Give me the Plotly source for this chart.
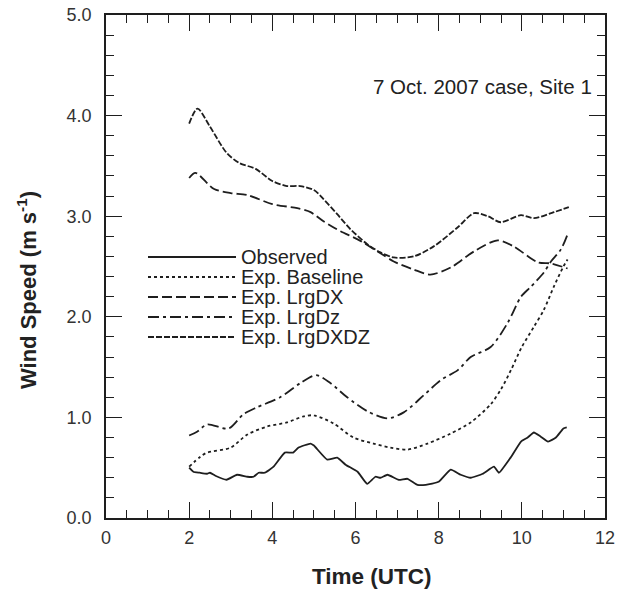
import plotly.graph_objects as go

# ---------------- data ----------------
obs_x = [2.0, 2.1, 2.25, 2.43, 2.5, 2.63, 2.9, 3.15, 3.4, 3.55, 3.67, 3.82, 4.03, 4.3, 4.5, 4.63,
         4.92, 5.0, 5.32, 5.56, 5.76, 6.05, 6.28, 6.48, 6.6, 6.77, 7.04, 7.25, 7.49, 7.69, 8.0,
         8.29, 8.53, 8.77, 9.06, 9.33, 9.45, 9.73, 9.98, 10.14, 10.29, 10.45, 10.63, 10.82, 11.0, 11.08]
obs_y = [0.50, 0.46, 0.45, 0.44, 0.45, 0.42, 0.38, 0.43, 0.41, 0.41, 0.45, 0.45, 0.51, 0.65, 0.65, 0.70,
         0.74, 0.72, 0.58, 0.60, 0.53, 0.46, 0.34, 0.41, 0.40, 0.43, 0.38, 0.39, 0.33, 0.33, 0.36,
         0.48, 0.43, 0.40, 0.44, 0.51, 0.45, 0.60, 0.76, 0.80, 0.85, 0.81, 0.76, 0.80, 0.89, 0.90]

base_x = [2.0, 2.27, 2.43, 3.0, 3.4, 3.88, 4.35, 4.75, 5.0, 5.47, 5.95, 6.43, 6.84, 7.25, 7.73,
          8.29, 8.77, 9.25, 9.5, 9.75, 10.0, 10.29, 10.53, 10.77, 11.0, 11.1]
base_y = [0.51, 0.61, 0.65, 0.70, 0.83, 0.91, 0.95, 1.01, 1.02, 0.94, 0.80, 0.74, 0.70, 0.68, 0.74,
          0.84, 0.95, 1.13, 1.28, 1.48, 1.70, 1.90, 2.07, 2.30, 2.50, 2.57]

dz_x = [2.0, 2.2, 2.43, 2.95, 3.3, 3.63, 4.19, 4.67, 5.05, 5.4, 5.8, 6.29, 6.77, 7.16, 7.64, 8.05,
        8.46, 8.77, 9.25, 9.66, 9.98, 10.22, 10.53, 10.7, 10.94, 11.1]
dz_y = [0.82, 0.86, 0.93, 0.89, 1.03, 1.10, 1.20, 1.34, 1.42, 1.34, 1.20, 1.06, 0.99, 1.05, 1.22, 1.37,
        1.47, 1.60, 1.70, 1.94, 2.20, 2.30, 2.44, 2.55, 2.67, 2.82]

dx_x = [2.0, 2.15, 2.6, 3.0, 3.4, 4.0, 4.6, 4.92, 5.23, 5.64, 6.05, 6.53, 6.92, 7.4, 7.8, 8.29,
        8.85, 9.42, 9.8, 10.39, 10.7, 11.1]
dx_y = [3.38, 3.43, 3.27, 3.23, 3.21, 3.12, 3.08, 3.04, 2.95, 2.85, 2.77, 2.65, 2.55, 2.47, 2.42, 2.49,
        2.65, 2.76, 2.70, 2.54, 2.53, 2.48]

dxdz_x = [2.0, 2.2, 2.5, 2.9, 3.2, 3.6, 4.0, 4.35, 4.67, 5.0, 5.23, 5.56, 5.88, 6.29, 6.6, 6.92,
          7.4, 7.88, 8.46, 8.85, 9.18, 9.49, 9.98, 10.29, 10.77, 11.13]
dxdz_y = [3.92, 4.07, 3.89, 3.63, 3.53, 3.47, 3.35, 3.30, 3.30, 3.26, 3.17, 3.02, 2.87, 2.72, 2.64, 2.59,
          2.60, 2.70, 2.89, 3.03, 3.00, 2.94, 3.01, 2.98, 3.04, 3.09]

names = ["Observed", "Exp. Baseline", "Exp. LrgDX", "Exp. LrgDz", "Exp. LrgDXDZ"]
series_x = [obs_x, base_x, dx_x, dz_x, dxdz_x]
series_y = [obs_y, base_y, dx_y, dz_y, dxdz_y]
dashes = ["solid", "3px,3px", "10px,4px", "11px,4px,3px,4px", "6px,2px"]
smooth = [0.4, 0.8, 0.8, 0.8, 0.8]

x_ticks = [0, 2, 4, 6, 8, 10, 12]
y_ticks = [0, 1, 2, 3, 4, 5]
y_tick_text = ["0.0", "1.0", "2.0", "3.0", "4.0", "5.0"]

x_title = "<b>Time (UTC)</b>"
y_title = "<b>Wind Speed (m s<sup>-1</sup>)</b>"
case_label = "7 Oct. 2007 case, Site 1"

LINE = "#1e1e1e"
FONT = "Arial, Liberation Sans, Helvetica, sans-serif"

fig = go.Figure()
for xs, ys, nm, ds, sm in zip(series_x, series_y, names, dashes, smooth):
    fig.add_trace(go.Scatter(x=xs, y=ys, mode="lines", name=nm, showlegend=False,
                             line=dict(color=LINE, width=1.8, dash=ds, shape="spline", smoothing=sm)))

# plot area geometry in pixels (for paper-coordinate placement of legend/titles)
L, R, T, B = 106, 26, 15, 71
W, H = 631 - L - R, 589 - T - B

def px(xp):
    return (xp - L) / W

def py(yp):
    return (589 - B - yp) / H

# manual legend (line samples + text)
leg_rows = [257, 277, 297, 317, 337]
for nm, ds, yrow in zip(names, dashes, leg_rows):
    fig.add_shape(type="line", xref="paper", yref="paper",
                  x0=px(148), x1=px(236), y0=py(yrow), y1=py(yrow),
                  line=dict(color=LINE, width=1.8, dash=ds))
    fig.add_annotation(xref="paper", yref="paper", x=px(239), y=py(yrow),
                       text=nm, showarrow=False, xanchor="left", yanchor="middle",
                       font=dict(family=FONT, size=20, color="#222"))

fig.add_annotation(xref="paper", yref="paper", x=px(594), y=py(86),
                   text=case_label, showarrow=False, xanchor="right", yanchor="middle",
                   font=dict(family=FONT, size=20.5, color="#222"))

# axis titles as annotations (fixed positions)
fig.add_annotation(xref="paper", yref="paper", x=px(372), y=py(576),
                   text=x_title, showarrow=False, xanchor="center", yanchor="middle",
                   font=dict(family=FONT, size=22.5, color="#222"))
fig.add_annotation(xref="paper", yref="paper", x=px(27), y=py(290),
                   text=y_title, showarrow=False, xanchor="center", yanchor="middle",
                   textangle=-90, font=dict(family=FONT, size=22, color="#222"))

axis_common = dict(showline=True, linecolor=LINE, linewidth=1.5, mirror="ticks",
                   ticks="inside", ticklen=16, tickwidth=1.2, tickcolor=LINE,
                   showgrid=False, zeroline=False, automargin=False,
                   tickfont=dict(family=FONT, size=18, color="#333"))

fig.update_xaxes(range=[0, 12], tickvals=x_ticks, ticktext=[str(v) for v in x_ticks],
                 minor=dict(dtick=0.5, ticks="inside", ticklen=8, tickwidth=1.2, tickcolor=LINE, showgrid=False),
                 ticklabelstandoff=3, **axis_common)
fig.update_yaxes(range=[0, 5], tickvals=y_ticks, ticktext=y_tick_text,
                 minor=dict(dtick=0.2, ticks="inside", ticklen=8, tickwidth=1.2, tickcolor=LINE, showgrid=False),
                 ticklabelstandoff=9, **axis_common)

fig.update_layout(width=631, height=589, paper_bgcolor="white", plot_bgcolor="white",
                  margin=dict(l=L, r=R, t=T, b=B), showlegend=False)

fig.write_html("out.html")
